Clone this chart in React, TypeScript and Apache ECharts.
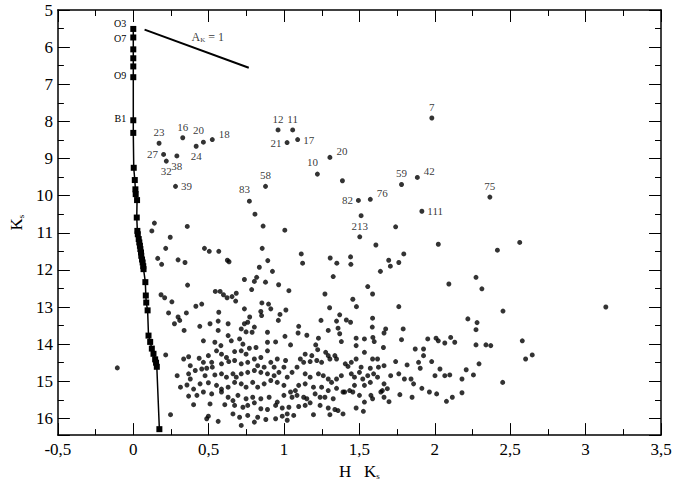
import React, { useEffect, useRef } from "react";
import * as echarts from "echarts";

// Field stars: [H-Ks, Ks]
const fieldStars: number[][] = [
  [0.14, 10.74], [0.123, 10.95], [0.245, 11.12], [0.358, 10.83], [0.807, 10.5], [0.861, 10.82], [1.005, 10.93],
  [1.387, 9.6], [1.511, 10.54], [1.74, 10.84], [1.609, 11.33], [2.023, 11.31], [2.563, 11.26], [-0.106, 14.64],
  [0.215, 11.42], [0.162, 11.69], [0.188, 11.85], [0.297, 11.73], [0.343, 11.8], [0.472, 11.42], [0.504, 11.5],
  [0.567, 11.5], [0.624, 11.74], [0.635, 11.78], [0.36, 12.41], [0.184, 12.67], [0.208, 12.75], [0.256, 12.86],
  [0.234, 13.16], [0.297, 13.27], [0.352, 13.16], [0.308, 13.36], [0.273, 13.45], [0.415, 12.98], [0.454, 12.92],
  [0.441, 13.52], [0.509, 13.45], [0.544, 12.58], [0.576, 12.58], [0.598, 12.67], [0.622, 12.75], [0.655, 12.72],
  [0.683, 12.63], [0.679, 12.84], [0.567, 13.14], [0.563, 13.38], [0.629, 13.45], [0.737, 13.05], [0.772, 13.27],
  [0.759, 13.41], [0.737, 13.45], [0.716, 13.59], [0.803, 13.54], [0.855, 11.42], [0.892, 11.75], [0.836, 11.93],
  [0.923, 12.04], [0.818, 12.2], [0.803, 12.31], [0.785, 12.53], [0.737, 12.26], [0.877, 12.33], [0.964, 12.4],
  [1.032, 12.56], [0.853, 12.89], [0.897, 12.92], [0.912, 13.05], [0.846, 13.12], [0.851, 13.23], [0.973, 13.2],
  [1.012, 13.08], [0.962, 13.36], [0.563, 13.63], [0.337, 13.63],
  [2.093, 12.38], [1.114, 11.57], [1.123, 11.82], [1.306, 11.68], [1.35, 11.82], [1.441, 11.65], [1.443, 11.85],
  [1.694, 11.74], [1.705, 11.9], [1.761, 11.8], [1.794, 11.57], [1.639, 12.04], [1.326, 12.18], [1.271, 12.65],
  [1.555, 12.45], [1.587, 12.65], [1.456, 12.79], [1.48, 12.99], [1.761, 12.99], [1.302, 13.02], [1.369, 13.21],
  [1.245, 13.36], [1.348, 13.38], [1.413, 13.35], [1.441, 13.41], [1.587, 13.3], [1.097, 13.52], [1.358, 13.57],
  [1.585, 13.54], [1.674, 13.59], [1.293, 13.63],
  [2.415, 11.47], [2.273, 12.2], [2.312, 12.51], [3.134, 13.0], [2.452, 13.11], [2.219, 13.32], [2.28, 13.42],
  [2.273, 13.61],
  [2.105, 13.82], [2.132, 13.95], [2.273, 14.02], [2.339, 14.02], [2.371, 14.04], [2.58, 13.91], [2.602, 14.4],
  [2.646, 14.29], [2.293, 14.53], [2.208, 14.69], [2.18, 14.94], [2.256, 14.83], [2.099, 14.83], [2.45, 15.03],
  [2.18, 15.31], [2.116, 15.43],
  [1.369, 13.72], [1.38, 13.93], [1.228, 13.84], [1.151, 13.76], [1.093, 13.7], [1.043, 14.02], [1.21, 14.02],
  [1.223, 14.15], [1.478, 13.84], [1.533, 13.86], [1.589, 13.82], [1.663, 13.7], [1.598, 13.93], [1.659, 14.09],
  [1.478, 14.04], [1.779, 13.88], [1.953, 13.86], [2.008, 13.84], [2.023, 13.91], [2.066, 13.97], [1.925, 14.13],
  [1.79, 13.59],
  [1.14, 14.27], [1.184, 14.31], [1.108, 14.4], [1.01, 14.44], [1.276, 14.22], [1.293, 14.31], [1.337, 14.31],
  [1.348, 14.4], [1.304, 14.4], [1.249, 14.49], [1.217, 14.44], [1.173, 14.47], [1.13, 14.49], [1.086, 14.62],
  [1.406, 14.53], [1.424, 14.6], [1.446, 14.49], [1.478, 14.4], [1.533, 14.22], [1.587, 14.4], [1.62, 14.4],
  [1.511, 14.62], [1.572, 14.65], [1.626, 14.62], [1.663, 14.58], [1.74, 14.47], [1.816, 14.56], [1.892, 14.49],
  [1.903, 14.65], [1.979, 14.47], [2.034, 14.67], [1.925, 14.31], [1.87, 14.13],
  [1.053, 14.76], [1.021, 14.89], [1.14, 14.8], [1.173, 14.89], [1.228, 14.8], [1.26, 14.85], [1.293, 14.94],
  [1.315, 15.03], [1.348, 14.94], [1.38, 14.85], [1.249, 15.16], [1.195, 15.16], [1.14, 15.07], [1.097, 15.11],
  [1.446, 14.8], [1.467, 14.89], [1.5, 14.76], [1.522, 14.94], [1.555, 14.85], [1.594, 14.8], [1.62, 14.89],
  [1.572, 15.03], [1.533, 15.11], [1.467, 15.11], [1.435, 15.25], [1.391, 15.29], [1.348, 15.19], [1.293, 15.25],
  [1.663, 15.07], [1.685, 15.2], [1.652, 15.25], [1.707, 14.85], [1.761, 14.8], [1.798, 14.94], [1.842, 14.94],
  [1.859, 15.07], [2.001, 14.85], [2.066, 14.85], [1.914, 15.19], [1.964, 15.29], [2.012, 15.34], [1.043, 15.29],
  [1.075, 15.25],
  [1.053, 15.43], [1.086, 15.38], [1.13, 15.43], [1.151, 15.47], [1.173, 15.58], [1.206, 15.34], [1.239, 15.43],
  [1.271, 15.43], [1.326, 15.47], [1.14, 15.65], [1.097, 15.68], [1.032, 15.7], [1.064, 15.92], [1.021, 16.05],
  [1.195, 15.9], [1.239, 15.65], [1.293, 15.72], [1.304, 15.9], [1.337, 15.76], [1.358, 15.79], [1.391, 15.88],
  [1.478, 15.72], [1.533, 15.56], [1.526, 15.81], [1.456, 15.29], [1.5, 15.38], [1.576, 15.38], [1.587, 15.47],
  [1.642, 15.29], [1.663, 15.43], [1.696, 15.55], [1.768, 15.36], [1.849, 15.43], [2.077, 15.54], [1.402, 15.29],
  [0.748, 13.67], [0.788, 13.68], [0.89, 13.68], [1.006, 13.79], [0.629, 13.77], [0.465, 13.91], [0.541, 13.95],
  [0.581, 14.04], [0.65, 13.91], [0.705, 13.86], [0.727, 14.0], [0.77, 14.11], [0.814, 14.09], [0.89, 13.95],
  [0.944, 13.94], [0.215, 14.29], [0.334, 14.4], [0.367, 14.34], [0.437, 14.38],
  [0.552, 14.18], [0.585, 14.27], [0.618, 14.36], [0.672, 14.2], [0.716, 14.18], [0.748, 14.27], [0.803, 14.4],
  [0.846, 14.36], [0.89, 14.18], [0.912, 14.49], [0.955, 14.4], [0.498, 14.31], [0.465, 14.49], [0.52, 14.49],
  [0.454, 14.67], [0.487, 14.65], [0.524, 14.62], [0.378, 14.58], [0.585, 14.53], [0.633, 14.47], [0.672, 14.44],
  [0.716, 14.53], [0.759, 14.49], [0.825, 14.58], [0.868, 14.62], [0.934, 14.62], [0.999, 14.62], [0.291, 14.85],
  [0.367, 14.8], [0.378, 14.94], [0.411, 14.71],
  [0.476, 14.85], [0.541, 14.83], [0.585, 14.8], [0.618, 14.89], [0.661, 14.8], [0.683, 14.89], [0.716, 14.8],
  [0.759, 14.76], [0.803, 14.71], [0.846, 14.76], [0.89, 14.8], [0.934, 14.85], [0.966, 14.76], [0.313, 15.16],
  [0.356, 15.1], [0.4, 15.21], [0.443, 15.07], [0.498, 15.04], [0.552, 15.11], [0.585, 15.21], [0.629, 15.16],
  [0.672, 15.03], [0.716, 15.07], [0.748, 15.16], [0.792, 15.03], [0.825, 15.16], [0.868, 15.07], [0.912, 14.98],
  [0.955, 15.03], [0.999, 15.11],
  [0.367, 15.4], [0.422, 15.38], [0.465, 15.29], [0.52, 15.34], [0.585, 15.29], [0.629, 15.43], [0.661, 15.52],
  [0.694, 15.38], [0.748, 15.47], [0.792, 15.43], [0.846, 15.47], [0.901, 15.43], [0.955, 15.56], [0.999, 15.38],
  [0.4, 15.63], [0.509, 15.61], [0.607, 15.63], [0.672, 15.65], [0.727, 15.7], [0.759, 15.65], [0.803, 15.58],
  [0.846, 15.74], [0.89, 15.76], [0.944, 15.65], [0.988, 15.72], [0.247, 15.9], [0.498, 15.94], [0.487, 16.01],
  [0.563, 16.08], [0.661, 15.88], [0.705, 15.97], [0.759, 15.92], [0.803, 16.1], [0.825, 15.97], [0.879, 16.03],
  [0.944, 16.01], [0.988, 15.94], [0.716, 16.19], [1.021, 15.88],
];

// Numbered stars
const starIds = ["23", "16", "20", "18", "24", "27", "32", "38", "39", "12", "11", "21", "17", "10", "20", "58", "83", "7", "59", "42", "82", "76", "75", "111", "213"];
const starX = [0.171, 0.328, 0.465, 0.524, 0.417, 0.201, 0.219, 0.289, 0.28, 0.96, 1.057, 1.02, 1.09, 1.221, 1.304, 0.877, 0.77, 1.98, 1.779, 1.884, 1.493, 1.572, 2.365, 1.914, 1.502];
const starY = [8.59, 8.44, 8.56, 8.49, 8.67, 8.89, 9.07, 8.93, 9.75, 8.23, 8.23, 8.57, 8.49, 9.42, 8.97, 9.75, 10.15, 7.91, 9.7, 9.51, 10.13, 10.1, 10.04, 10.42, 11.11];
const starSide = ["top", "top", "topleft", "topright", "bottom", "left", "bottom", "bottom", "right", "top", "top", "left", "right", "topleft", "topright", "top", "topleft", "top", "top", "topright", "left", "topright", "top", "right", "top"];

// Intrinsic main sequence
const seqX = [0, 0, 0, 0, 0, 0, 0, 0, 0.003, 0.01, 0.014, 0.016, 0.025, 0.023, 0.027, 0.03, 0.036, 0.04, 0.044, 0.047, 0.051, 0.053, 0.058, 0.062, 0.066, 0.068, 0.08, 0.083, 0.086, 0.095, 0.101, 0.112, 0.123, 0.134, 0.145, 0.151, 0.156, 0.173];
const seqY = [5.51, 5.74, 6.06, 6.3, 6.52, 6.81, 7.97, 8.31, 9.25, 9.58, 9.83, 9.96, 10.12, 10.59, 10.95, 11.04, 11.17, 11.26, 11.35, 11.44, 11.53, 11.62, 11.72, 11.8, 11.9, 11.98, 12.33, 12.69, 12.88, 13.09, 13.77, 13.94, 14.12, 14.26, 14.41, 14.5, 14.61, 16.29];
const seqTypes: Record<number, string> = { 0: "O3", 1: "O7", 5: "O9", 6: "B1" };

// Reddening vector A_K = 1
const vectorX = [0.075, 0.766];
const vectorY = [5.53, 6.555];
const vectorLabelAt = [0.494, 5.74];

const FONT = "Liberation Serif";

function sideToLabel(side: string) {
  switch (side) {
    case "topleft":
      return { position: "top", offset: [-5, 1] };
    case "topright":
      return { position: "right", offset: [-1, -6] };
    case "left":
      return { position: "left", distance: 3 };
    case "right":
      return { position: "right", distance: 3 };
    case "bottom":
      return { position: "bottom", distance: 2 };
    default:
      return { position: "top", distance: 3 };
  }
}

const seqLabelOffset: Record<string, number[]> = { O3: [0, -5], O7: [0, 1], O9: [0, -2], B1: [0, -2] };

export default function App() {
  const ref = useRef<HTMLDivElement>(null);
  useEffect(() => {
    document.body.style.margin = "0";
    const chart = echarts.init(ref.current!, null, { renderer: "svg" });
    const axisCommon = {
      type: "value",
      splitLine: { show: false },
      axisLine: { show: true, onZero: false, lineStyle: { color: "#000", width: 1.5 } },
      axisTick: { show: true, inside: true, length: 12, lineStyle: { color: "#000", width: 1 } },
      minorTick: { show: true, splitNumber: 2, length: 6, lineStyle: { color: "#000", width: 1 } },
    };
    const subRich = {
      m: { fontSize: 17, fontFamily: FONT, color: "#000" },
      s: { fontSize: 9, fontFamily: FONT, color: "#000", verticalAlign: "bottom", padding: [8, 0, 0, 0] },
    };
    const labelText = { fontSize: 11, fontFamily: FONT, color: "#000" };
    const option: any = {
      animation: false,
      backgroundColor: "#fff",
      textStyle: { fontFamily: FONT },
      grid: { left: 49, right: 14, top: 10, bottom: 48 },
      xAxis: [
        {
          ...axisCommon,
          min: -0.5,
          max: 3.5,
          interval: 0.5,
          position: "bottom",
          axisLabel: {
            formatter: (v: number) => String(v).replace(".", ","),
            fontSize: 17,
            fontFamily: FONT,
            color: "#000",
            margin: 6,
          },
          name: "{m|H   K}{s|s}",
          nameLocation: "middle",
          nameGap: 24,
          nameTextStyle: { fontFamily: FONT, rich: subRich },
        },
        {
          ...axisCommon,
          min: -0.5,
          max: 3.5,
          interval: 0.5,
          position: "top",
          axisLabel: { show: false },
        },
      ],
      yAxis: [
        {
          ...axisCommon,
          min: 5,
          max: 16.45,
          interval: 1,
          inverse: true,
          position: "left",
          axisLabel: { fontSize: 17, fontFamily: FONT, color: "#000", margin: 5 },
          name: "{m|K}{s|s}",
          nameLocation: "middle",
          nameRotate: 90,
          nameGap: 30,
          nameTextStyle: { fontFamily: FONT, rich: subRich },
        },
        {
          ...axisCommon,
          min: 5,
          max: 16.45,
          interval: 1,
          inverse: true,
          position: "right",
          axisLabel: { show: false },
        },
      ],
      series: [
        {
          name: "sequence",
          type: "line",
          data: seqX.map((x, i) => {
            const t = seqTypes[i];
            return t
              ? {
                  value: [x, seqY[i]],
                  label: {
                    show: true,
                    position: "left",
                    distance: 4,
                    offset: seqLabelOffset[t],
                    formatter: t,
                    ...labelText,
                    fontSize: 10,
                  },
                }
              : { value: [x, seqY[i]] };
          }),
          symbol: "rect",
          symbolSize: 6,
          showAllSymbol: true,
          lineStyle: { color: "#000", width: 1.5 },
          itemStyle: { color: "#000" },
          z: 3,
        },
        {
          name: "vector",
          type: "line",
          data: vectorX.map((x, i) => [x, vectorY[i]]),
          showSymbol: false,
          symbol: "none",
          lineStyle: { color: "#000", width: 2 },
        },
        {
          name: "vectorLabel",
          type: "scatter",
          data: [vectorLabelAt],
          symbolSize: 0,
          label: {
            show: true,
            position: "inside",
            formatter: "{m|A}{s|K}{m| = 1}",
            rich: {
              m: { fontSize: 12, fontFamily: FONT, color: "#000" },
              s: { fontSize: 7, fontFamily: FONT, color: "#000", verticalAlign: "bottom", padding: [6, 0, 0, 0] },
            },
          },
        },
        {
          name: "field",
          type: "scatter",
          data: fieldStars,
          symbol: "circle",
          symbolSize: 5,
          itemStyle: { color: "#000" },
        },
        {
          name: "numbered",
          type: "scatter",
          data: starIds.map((id, i) => ({
            name: id,
            value: [starX[i], starY[i]],
            label: { show: true, formatter: id, ...labelText, ...sideToLabel(starSide[i]) },
          })),
          symbol: "circle",
          symbolSize: 5,
          itemStyle: { color: "#000" },
          label: { show: true, ...labelText },
        },
      ],
    };
    chart.setOption(option);
    return () => chart.dispose();
  }, []);
  return <div ref={ref} style={{ width: 675, height: 485 }} />;
}
